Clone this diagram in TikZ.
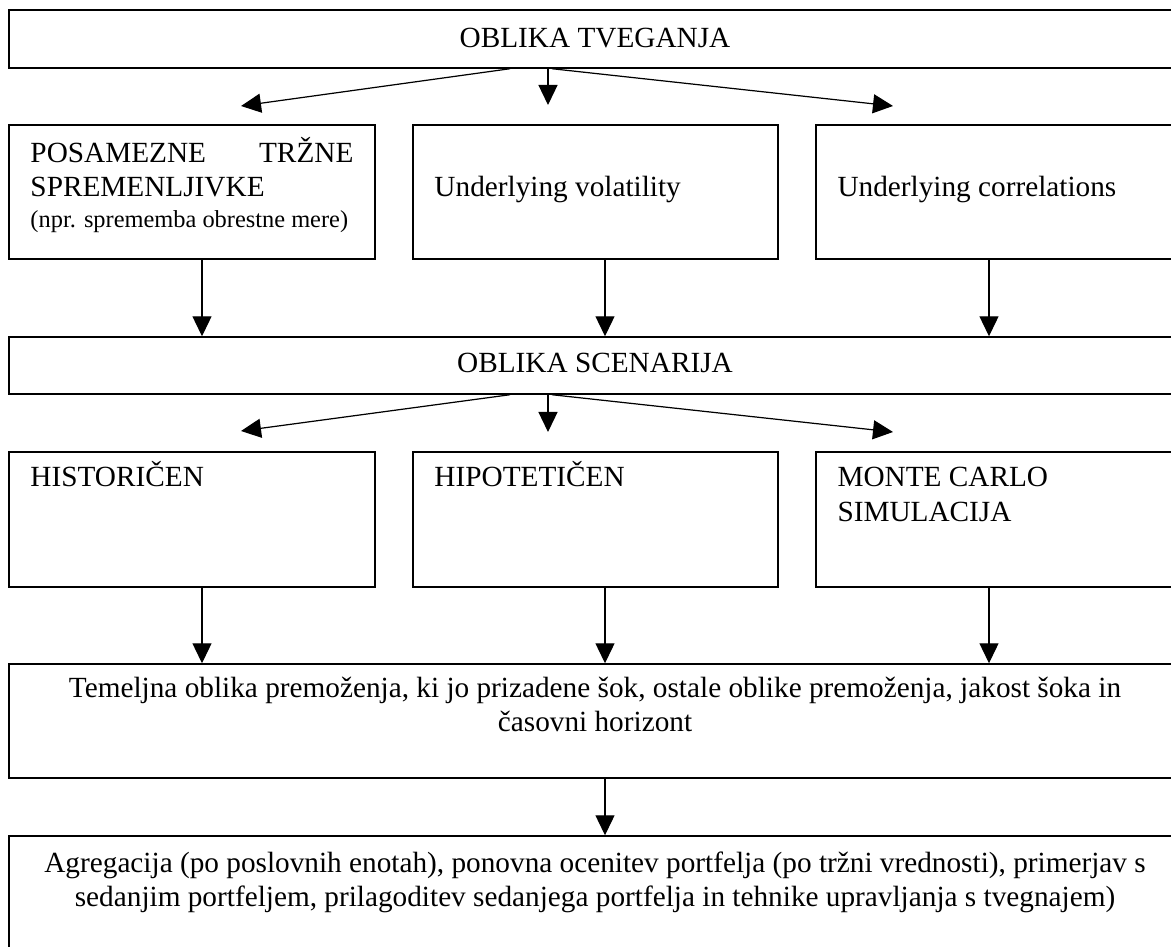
\documentclass[tikz,border=0pt]{standalone}
\usepackage{fontspec}
\setmainfont{Liberation Serif}
\usetikzlibrary{arrows.meta,fit}
\begin{document}
\begin{tikzpicture}[x=0.41pt,y=-0.41pt,
  box/.style={draw,line width=0.6pt,rectangle,inner sep=0pt},
  arr/.style={line width=0.5pt,-{Triangle[width=7.8pt,length=8.2pt]}},
  txt/.style={inner sep=0pt,anchor=base west,font=\fontsize{12pt}{13.8pt}\selectfont},
  ctxt/.style={inner sep=0pt,anchor=base,font=\fontsize{12pt}{13.8pt}\selectfont},
  smalltxt/.style={inner sep=0pt,anchor=base west,font=\fontsize{10pt}{11.5pt}\selectfont}]
\useasboundingbox (0,0) rectangle (1171,947);
\clip (0,0) rectangle (1171,947);
% boxes
\node[box,fit={(9,10) (1180,68)}] (top) {};
\node[box,fit={(9,125) (375,259)}] (b1) {};
\node[box,fit={(413,125) (778,259)}] (b2) {};
\node[box,fit={(816,125) (1180,259)}] (b3) {};
\node[box,fit={(9,337) (1180,394)}] (scen) {};
\node[box,fit={(9,452) (375,587)}] (c1) {};
\node[box,fit={(413,452) (778,587)}] (c2) {};
\node[box,fit={(816,452) (1180,587)}] (c3) {};
\node[box,fit={(9,664) (1180,778)}] (tem) {};
\node[box,fit={(9,836) (1180,960)}] (fin) {};
% texts
\node[ctxt] (ttop) at (595,48) {OBLIKA TVEGANJA};
\node[txt] (tb1a) at (30,163) {\makebox[132.4pt][s]{POSAMEZNE\hfill TRŽNE}};
\node[txt] (tb1b) at (30,197) {SPREMENLJIVKE};
\node[smalltxt] (tb1c) at (30,228) {(npr. sprememba obrestne mere)};
\node[txt] (tb2) at (434,197) {Underlying volatility};
\node[txt] (tb3) at (837,197) {Underlying correlations};
\node[ctxt] (tscen) at (595,373) {OBLIKA SCENARIJA};
\node[txt] (tc1) at (30,487) {HISTORIČEN};
\node[txt] (tc2) at (434,487) {HIPOTETIČEN};
\node[txt] (tc3a) at (837,487) {MONTE CARLO};
\node[txt] (tc3b) at (837,521) {SIMULACIJA};
\node[ctxt] (ttem1) at (595,697) {Temeljna oblika premoženja, ki jo prizadene šok, ostale oblike premoženja, jakost šoka in};
\node[ctxt] (ttem2) at (595,731) {časovni horizont};
\node[ctxt] (tfin1) at (595,872) {Agregacija (po poslovnih enotah), ponovna ocenitev portfelja (po tržni vrednosti), primerjav s};
\node[ctxt] (tfin2) at (595,906) {sedanjim portfeljem, prilagoditev sedanjega portfelja in tehnike upravljanja s tvegnajem)};
% helper coordinates
\coordinate (xL) at (510,0);
\coordinate (xM) at (548,0);
\coordinate (xR) at (552,0);
\coordinate (xa) at (202,0);
\coordinate (xb) at (605,0);
\coordinate (xc) at (989,0);
\coordinate (tL1) at (241,106);
\coordinate (tM1) at (548,105);
\coordinate (tR1) at (893,106);
\coordinate (tL2) at (241,431);
\coordinate (tM2) at (548,432);
\coordinate (tR2) at (893,432);
% arrows from top
\draw[arr] (top.south -| xL) -- (tL1);
\draw[arr] (top.south -| xM) -- (tM1);
\draw[arr] (top.south -| xR) -- (tR1);
% arrows row 2 to scenario
\draw[arr] (b1.south -| xa) -- (scen.north -| xa);
\draw[arr] (b2.south -| xb) -- (scen.north -| xb);
\draw[arr] (b3.south -| xc) -- (scen.north -| xc);
% arrows from scenario
\draw[arr] (scen.south -| xL) -- (tL2);
\draw[arr] (scen.south -| xM) -- (tM2);
\draw[arr] (scen.south -| xR) -- (tR2);
% arrows row 4 to temeljna
\draw[arr] (c1.south -| xa) -- (tem.north -| xa);
\draw[arr] (c2.south -| xb) -- (tem.north -| xb);
\draw[arr] (c3.south -| xc) -- (tem.north -| xc);
% arrow temeljna to final
\draw[arr] (tem.south -| xb) -- (fin.north -| xb);
\end{tikzpicture}
\end{document}
